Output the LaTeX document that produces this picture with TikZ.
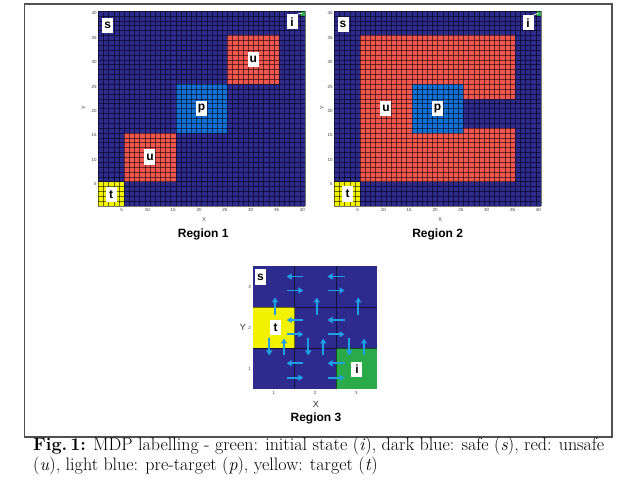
\documentclass[tikz,border=0pt]{standalone}
\usepackage{fontspec}
\newfontfamily\labfont{Liberation Sans}
\usetikzlibrary{arrows.meta}
\definecolor{navy}{HTML}{2E2B8E}
\definecolor{unsafe}{HTML}{EF5650}
\definecolor{pblue}{HTML}{1570D6}
\definecolor{yel}{HTML}{F2F200}
\definecolor{grn}{HTML}{2BAA4A}
\definecolor{arrcol}{HTML}{1CA0E6}
\definecolor{framecol}{HTML}{505050}
\tikzset{
  gridline/.style={black, opacity=0.55, line width=0.35pt},
  lab/.style={fill=white, text=black, font=\labfont\bfseries\fontsize{12}{12}\selectfont, inner sep=0pt, minimum width=11pt, minimum height=15.5pt},
  tick/.style={font=\labfont\fontsize{4.5}{5}\selectfont, text=black!75, inner sep=0.5pt},
  axlab/.style={font=\labfont\fontsize{5.5}{6}\selectfont, text=black!75, inner sep=0pt},
  bigax/.style={font=\labfont\fontsize{9}{9}\selectfont, text=black!80, inner sep=0pt},
  regtitle/.style={font=\labfont\bfseries\fontsize{12}{14}\selectfont, inner sep=0pt},
  arr/.style={arrcol, line width=1.8pt, -{Triangle[length=5pt,width=6pt]}},
  capt/.style={font=\fontsize{18}{20}\selectfont, inner sep=0pt, anchor=base west},
  marker/.style={white, line width=0.8pt}
}
\begin{document}
\begin{tikzpicture}[x=1pt,y=-1pt]
\useasboundingbox (0,0) rectangle (641,481);
\fill[white] (0,0) rectangle (641,481);
\draw[framecol, line width=1.2pt] (24.5,4) rectangle (612,437);

% ---------- Region 1 ----------
\begin{scope}[shift={(98.3,206)}, x=5.1675pt, y=4.875pt]
  \fill[navy] (0,0) rectangle (40,40);
  \fill[yel] (0,0) rectangle (5,5);
  \fill[unsafe] (5,5) rectangle (15,15);
  \fill[pblue] (15,15) rectangle (25,25);
  \fill[unsafe] (25,25) rectangle (35,35);
  \fill[grn] (39,39) rectangle (40,40);
  \foreach \k in {0,...,40} {
    \draw[gridline] (\k,0) -- (\k,40);
    \draw[gridline] (0,\k) -- (40,\k);
  }
  \foreach \v in {5,10,...,40} {
    \node[tick, anchor=east] at (-0.2,\v-0.5) {\v};
    \node[tick, anchor=north] at (\v-0.5,-0.4) {\v};
  }
  \node[axlab] (xa1) at (20.5,-2.7) {X};
  \node[axlab, rotate=90] (ya1) at (-2.8,20.2) {Y};
  \coordinate (g1) at (39.5,39.5);
  \node[lab] (s1) at (1.8,37.0) {s};
  \node[lab] (i1) at (37.5,37.8) {i};
  \node[lab] (t1) at (2.5,2.4) {t};
  \node[lab] (ua1) at (10,10) {u};
  \node[lab] (p1) at (20,20) {p};
  \node[lab] (ub1) at (30,30) {u};
  \draw[marker] (i1.north east) -- (g1);
  \node[regtitle] (r1) at (20.3,-5.9) {Region 1};
\end{scope}

% ---------- Region 2 ----------
\begin{scope}[shift={(334.3,206)}, x=5.1675pt, y=4.875pt]
  \fill[navy] (0,0) rectangle (40,40);
  \fill[yel] (0,0) rectangle (5,5);
  \fill[unsafe] (5,5) rectangle (35,35);
  \fill[pblue] (15,15) rectangle (25,25);
  \fill[navy] (25,16) rectangle (35,22);
  \fill[grn] (39,39) rectangle (40,40);
  \foreach \k in {0,...,40} {
    \draw[gridline] (\k,0) -- (\k,40);
    \draw[gridline] (0,\k) -- (40,\k);
  }
  \foreach \v in {5,10,...,40} {
    \node[tick, anchor=east] at (-0.2,\v-0.5) {\v};
    \node[tick, anchor=north] at (\v-0.5,-0.4) {\v};
  }
  \node[axlab] (xa2) at (20.5,-2.7) {X};
  \node[axlab, rotate=90] (ya2) at (-2.4,20.2) {Y};
  \coordinate (g2) at (39.5,39.5);
  \node[lab] (s2) at (1.7,37.2) {s};
  \node[lab] (i2) at (37.5,37.6) {i};
  \node[lab] (t2) at (2.6,2.5) {t};
  \node[lab] (u2) at (10,20) {u};
  \node[lab] (p2) at (20,20) {p};
  \draw[marker] (i2.north east) -- (g2);
  \node[regtitle] (r2) at (20.0,-5.9) {Region 2};
\end{scope}

% ---------- Region 3 ----------
\begin{scope}[shift={(253.3,389)}, x=41.23pt, y=41pt]
  \fill[navy] (0,0) rectangle (3,3);
  \fill[yel] (0,1) rectangle (1,2);
  \fill[grn] (2,0) rectangle (3,1);
  \foreach \k in {1,2} {
    \draw[gridline] (\k,0) -- (\k,3);
    \draw[gridline] (0,\k) -- (3,\k);
  }
  \foreach \v in {1,2,3} {
    \node[tick, anchor=east] at (-0.04,\v-0.5) {\v};
    \node[tick, anchor=north] at (\v-0.5,-0.05) {\v};
  }
  \node[bigax] (xa3) at (1.52,-0.37) {X};
  \node[bigax] (ya3) at (-0.25,1.5) {Y};
  \node[lab] (s3) at (0.175,2.73) {s};
  \node[lab] (t3) at (0.54,1.5) {t};
  \node[lab] (i3) at (2.515,0.476) {i};
  \node[regtitle] (r3) at (1.52,-0.72) {Region 3};
\end{scope}

% arrows of Region 3 (policy)
\foreach \ya/\yb in {276.5/290.5, 320/334.3, 363.3/377.7} {
  \draw[arr] (303.3,\ya) -- (286.7,\ya);
  \draw[arr] (286.7,\yb) -- (303.3,\yb);
  \draw[arr] (344.5,\ya) -- (327.5,\ya);
  \draw[arr] (327.5,\yb) -- (344.5,\yb);
}
\foreach \x in {275, 316.7, 358.3} {
  \draw[arr] (\x,315) -- (\x,297.5);
}
\foreach \xd/\xu in {269.3/284, 308.3/323.3, 349.3/364} {
  \draw[arr] (\xd,338.5) -- (\xd,355.5);
  \draw[arr] (\xu,355.5) -- (\xu,338.5);
}

% caption
\node[capt] (cap1) at (33,451) {\textbf{Fig.\,1:} MDP labelling - green: initial state (\textit{i}), dark blue: safe (\textit{s}), red: unsafe};
\node[capt] (cap2) at (33,471) {(\textit{u}), light blue: pre-target (\textit{p}), yellow: target (\textit{t})};
\end{tikzpicture}
\end{document}
